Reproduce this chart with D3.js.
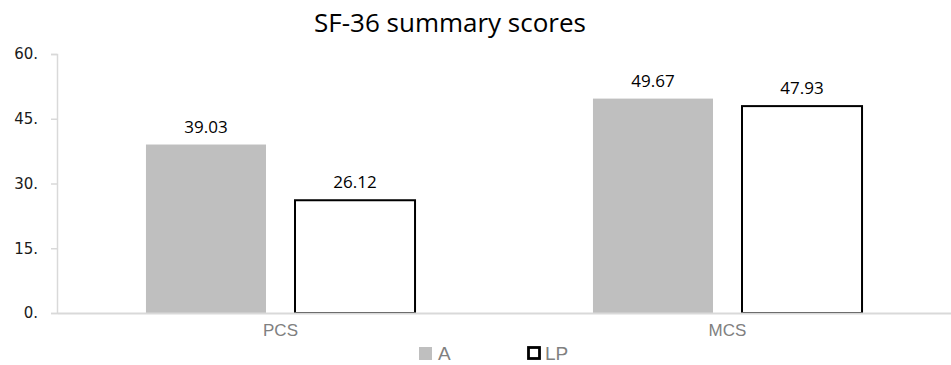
<!DOCTYPE html>
<html>
<head>
<meta charset="utf-8">
<script src="https://cdn.jsdelivr.net/npm/d3@7"></script>
<style>
  html, body { margin: 0; padding: 0; background: #fff; }
  svg { display: block; }
</style>
</head>
<body>
<svg id="chart" width="951" height="365"></svg>
<script>
// SF-36 summary scores: physical (PCS) and mental (MCS) component scores
const categories = ["PCS", "MCS"];
const seriesNames = ["A", "LP"];
const valuesA = [39.03, 49.67];
const valuesLP = [26.12, 47.93];
const yTicks = [0, 15, 30, 45, 60];
const titleText = "SF-36 summary scores";

const seriesValues = { A: valuesA, LP: valuesLP };
const rows = categories.map((c, i) => ({
  category: c,
  values: seriesNames.map(s => ({ series: s, value: seriesValues[s][i] }))
}));

const svg = d3.select("#chart");
const plot = { left: 57, right: 951, top: 54, bottom: 313 };

const x0 = d3.scaleBand()
  .domain(categories)
  .range([plot.left, plot.right])
  .padding(0);

const x1 = d3.scaleBand()
  .domain(seriesNames)
  .range([0, x0.bandwidth()])
  .paddingInner(29 / 149)
  .paddingOuter(0.597);

const y = d3.scaleLinear()
  .domain([0, 60])
  .range([plot.bottom, plot.top]);

// Title
svg.append("text")
  .attr("x", 450)
  .attr("y", 32)
  .attr("text-anchor", "middle")
  .attr("font-family", "'Open Sans', sans-serif")
  .attr("font-size", 26)
  .attr("fill", "#000")
  .text(titleText);

// Y axis
const yAxis = d3.axisLeft(y)
  .tickValues(yTicks)
  .tickSize(6)
  .tickPadding(13)
  .tickFormat(d => d + ".");

const yg = svg.append("g")
  .attr("transform", `translate(${plot.left},0)`)
  .call(yAxis);
yg.attr("font-size", null).attr("font-family", null);
yg.select(".domain").attr("stroke", "#d9d9d9").attr("stroke-width", 1.5);
yg.selectAll(".tick line").attr("stroke", "#d9d9d9").attr("stroke-width", 1.5);
yg.selectAll(".tick text")
  .style("font-family", "'DejaVu Sans', Verdana, sans-serif")
  .style("font-size", "15px")
  .attr("fill", "#1a1a1a");

// Bars
const groups = svg.append("g").selectAll("g")
  .data(rows)
  .join("g")
  .attr("transform", d => `translate(${x0(d.category)},0)`);

groups.selectAll("rect")
  .data(d => d.values)
  .join("rect")
  .attr("x", d => x1(d.series))
  .attr("width", x1.bandwidth())
  .attr("y", d => y(d.value))
  .attr("height", d => y(0) - y(d.value))
  .attr("fill", d => d.series === "A" ? "#bfbfbf" : "#ffffff")
  .attr("stroke", d => d.series === "A" ? "none" : "#000")
  .attr("stroke-width", 2);

// Value labels
groups.selectAll("text.value")
  .data(d => d.values)
  .join("text")
  .attr("class", "value")
  .attr("x", d => x1(d.series) + x1.bandwidth() / 2)
  .attr("y", d => y(d.value) - 12)
  .attr("text-anchor", "middle")
  .attr("font-family", "'Open Sans', sans-serif")
  .attr("font-size", 17)
  .attr("fill", "#000")
  .text(d => d.value.toFixed(2));

// X axis baseline
const xAxis = d3.axisBottom(x0).tickSize(0).tickPadding(10);
const xg = svg.append("g")
  .attr("transform", `translate(0,${plot.bottom})`)
  .call(xAxis);
xg.attr("font-size", null).attr("font-family", null);
xg.select(".domain").attr("stroke", "#d9d9d9").attr("stroke-width", 2);
xg.selectAll(".tick text")
  .style("font-family", "'Liberation Sans', Arial, sans-serif")
  .style("font-size", "17px")
  .attr("fill", "#808080")
  .attr("dy", "0")
  .attr("y", 22.5);

// Legend
const legend = svg.append("g");
const legendItems = [
  { name: "A", x: 419 },
  { name: "LP", x: 528 }
];
legendItems.forEach(item => {
  const g = legend.append("g");
  if (item.name === "A") {
    g.append("rect").attr("x", item.x).attr("y", 347)
      .attr("width", 13).attr("height", 13).attr("fill", "#bfbfbf");
  } else {
    g.append("rect").attr("x", item.x + 0.5).attr("y", 347.5)
      .attr("width", 11).attr("height", 11)
      .attr("fill", "#fff").attr("stroke", "#000").attr("stroke-width", 2.8);
  }
  g.append("text")
    .attr("x", item.x + (item.name === "A" ? 19 : 17))
    .attr("y", 360)
    .attr("font-family", "'Liberation Sans', Arial, sans-serif")
    .attr("font-size", 19)
    .attr("fill", "#808080")
    .text(item.name);
});
</script>
</body>
</html>
